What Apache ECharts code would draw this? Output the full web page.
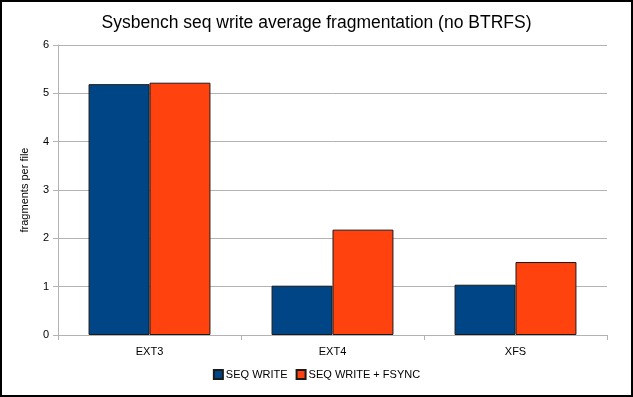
<!DOCTYPE html>
<html>
<head>
<meta charset="utf-8">
<script src="https://cdn.jsdelivr.net/npm/echarts@6/dist/echarts.min.js"></script>
<style>
  html, body { margin: 0; padding: 0; background: #fff; }
  #chart { width: 633px; height: 397px; box-sizing: border-box; border: 2px solid #000; }
</style>
</head>
<body>
<div id="chart"></div>
<script>
const categories = ['EXT3', 'EXT4', 'XFS']
const seqWrite = [5.19, 1.02, 1.04]
const seqWriteFsync = [5.22, 2.18, 1.51]
const seriesNames = ['SEQ WRITE', 'SEQ WRITE + FSYNC']

const font = 'Liberation Sans, Arial, sans-serif'
const chart = echarts.init(document.getElementById('chart'))

const barStyle = color => ({ color: color, borderColor: '#1a1a1a', borderWidth: 1 })

chart.setOption({
  animation: false,
  textStyle: { fontFamily: font },
  title: {
    text: 'Sysbench seq write average fragmentation (no BTRFS)',
    left: 'center',
    top: 7,
    textStyle: { fontFamily: font, fontSize: 17.5, fontWeight: 'normal', color: '#000' }
  },
  legend: {
    data: seriesNames,
    bottom: 10,
    left: 'center',
    icon: 'rect',
    itemWidth: 9,
    itemHeight: 9,
    itemGap: 8,
    textStyle: { fontFamily: font, fontSize: 11, color: '#000', padding: [0, 0, 0, -2] }
  },
  grid: { left: 56, right: 24, top: 43, bottom: 60 },
  xAxis: {
    type: 'category',
    data: categories,
    axisLine: { lineStyle: { color: '#b3b3b3' } },
    axisTick: { show: true, length: 5, lineStyle: { color: '#b3b3b3' } },
    axisLabel: { fontFamily: font, fontSize: 11, color: '#000', margin: 11 },
    splitLine: { show: false }
  },
  yAxis: {
    type: 'value',
    min: 0,
    max: 6,
    interval: 1,
    name: 'fragments per file',
    nameLocation: 'middle',
    nameGap: 28,
    nameRotate: 90,
    nameTextStyle: { fontFamily: font, fontSize: 11, color: '#000' },
    axisLine: { show: true, lineStyle: { color: '#b3b3b3' } },
    axisTick: { show: true, length: 5, lineStyle: { color: '#b3b3b3' } },
    axisLabel: { fontFamily: font, fontSize: 11, color: '#000', margin: 9 },
    splitLine: { lineStyle: { color: '#b3b3b3' } }
  },
  series: [
    {
      name: seriesNames[0],
      type: 'bar',
      data: seqWrite,
      barWidth: '33.3%',
      barGap: '0%',
      itemStyle: barStyle('#004586')
    },
    {
      name: seriesNames[1],
      type: 'bar',
      data: seqWriteFsync,
      barWidth: '33.3%',
      barGap: '0%',
      itemStyle: barStyle('#ff420e')
    }
  ]
})
</script>
</body>
</html>
